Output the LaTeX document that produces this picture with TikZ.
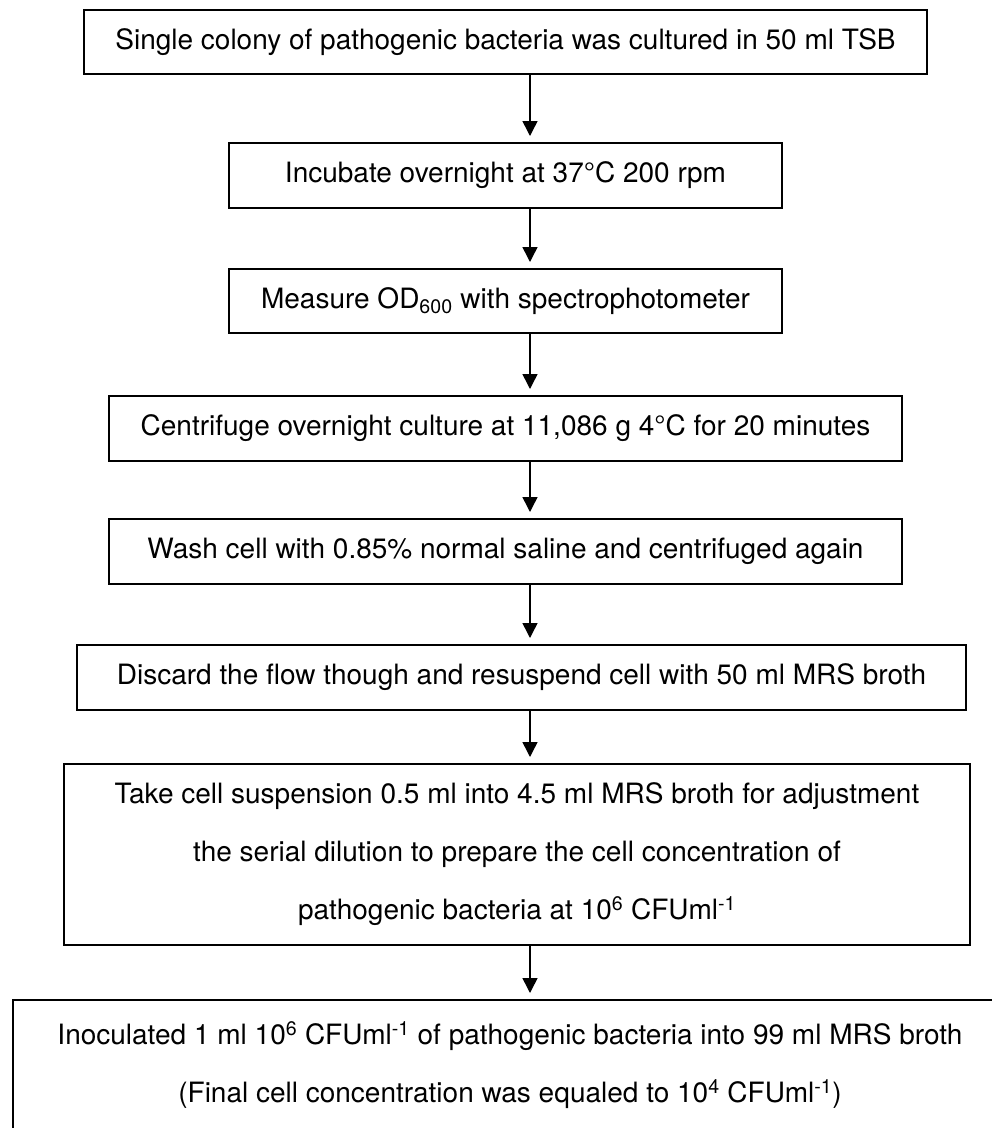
\documentclass[tikz,border=0pt]{standalone}
\usepackage{fontspec}
\setmainfont{TeX Gyre Heros}
\usetikzlibrary{arrows.meta}
\begin{document}
\begin{tikzpicture}[x=1pt,y=-1pt,
  box/.style={draw=black, line width=2pt, rectangle, inner sep=0pt, align=center,
    font=\fontsize{28}{58}\selectfont},
  arr/.style={-{Triangle[length=15pt,width=15pt]}, line width=1.5pt, shorten >=6pt}]
\useasboundingbox (0,0) rectangle (992,1128);
\clip (0,0) rectangle (992,1128);
\coordinate (ax) at (530,0);
\node[box, minimum width=843pt, minimum height=64pt] (b1) at (505.5,42)
  {Single colony of pathogenic bacteria was cultured in 50 ml TSB};
\node[box, minimum width=553pt, minimum height=65pt] (b2) at (505.5,175.5)
  {Incubate overnight at 37°C 200 rpm};
\node[box, minimum width=553pt, minimum height=64pt] (b3) at (505.5,301)
  {Measure OD\textsubscript{600} with spectrophotometer};
\node[box, minimum width=793pt, minimum height=65pt] (b4) at (505.5,428.5)
  {Centrifuge overnight culture at 11,086 g 4°C for 20 minutes};
\node[box, minimum width=793pt, minimum height=65pt] (b5) at (505.5,551.5)
  {Wash cell with 0.85\% normal saline and centrifuged again};
\node[box, minimum width=889pt, minimum height=65pt] (b6) at (521.5,677.5)
  {Discard the flow though and resuspend cell with 50 ml MRS broth};
\node[box, minimum width=906pt, minimum height=181pt] (b7) at (517,854.5)
  {Take cell suspension 0.5 ml into 4.5 ml MRS broth for adjustment\\
   the serial dilution to prepare the cell concentration of\\
   pathogenic bacteria at 10\textsuperscript{6} CFUml\textsuperscript{-1}};
\node[box, minimum width=994pt, minimum height=130pt] (b8) at (510,1065)
  {Inoculated 1 ml 10\textsuperscript{6} CFUml\textsuperscript{-1} of pathogenic bacteria into 99 ml MRS broth\\
   (Final cell concentration was equaled to 10\textsuperscript{4} CFUml\textsuperscript{-1})};
\draw[arr] (b1.south -| ax) -- (b2.north -| ax);
\draw[arr] (b2.south -| ax) -- (b3.north -| ax);
\draw[arr] (b3.south -| ax) -- (b4.north -| ax);
\draw[arr] (b4.south -| ax) -- (b5.north -| ax);
\draw[arr] (b5.south -| ax) -- (b6.north -| ax);
\draw[arr] (b6.south -| ax) -- (b7.north -| ax);
\draw[arr] (b7.south -| ax) -- (b8.north -| ax);
\end{tikzpicture}
\end{document}
